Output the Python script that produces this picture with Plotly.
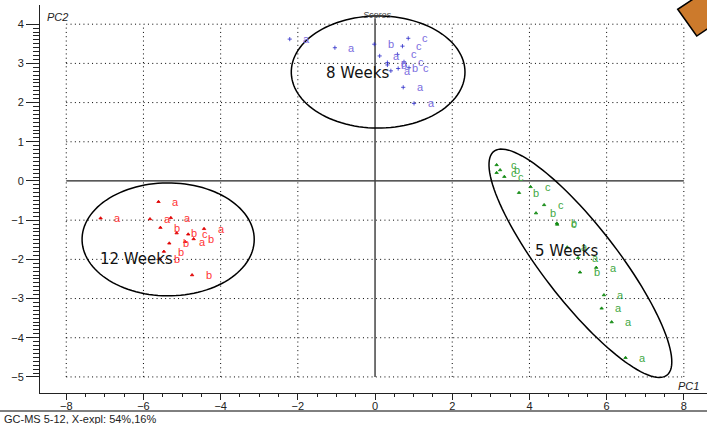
import numpy as np
import plotly.graph_objects as go

# ---- PCA scores (PC1, PC2) with replicate letters, per storage time ----
w8_pc1 = [-2.21, -1.04, -0.02, 0.86, 0.71, 0.12, 0.58, 0.32, 0.32, 0.41, 0.60, 0.73, 1.01, 0.75, 0.88]
w8_pc2 = [3.62, 3.40, 3.49, 3.64, 3.44, 3.19, 3.23, 3.02, 2.96, 2.81, 2.87, 2.39, 1.98, 3.04, 2.89]
w8_lab = ["a", "a", "b", "c", "c", "a", "c", "a", "b", "a", "b", "a", "a", "c", "c"]

w12_pc1 = [-5.61, -7.11, -5.83, -5.29, -5.56, -5.14, -4.84, -4.43, -4.70, -5.33, -5.47, -5.58, -4.74, -4.92]
w12_pc2 = [-0.53, -0.95, -0.97, -0.94, -1.19, -1.33, -1.36, -1.22, -1.48, -1.59, -1.80, -1.99, -2.40, -1.55]
w12_lab = ["a", "a", "a", "a", "b", "b", "c", "a", "b", "b", "b", "b", "b", "a"]

w5_pc1 = [3.15, 3.24, 3.15, 3.35, 3.73, 4.03, 4.38, 4.17, 4.71, 4.72, 4.98, 5.26, 5.31, 5.73, 5.93, 5.87, 6.13, 6.49]
w5_pc2 = [0.41, 0.28, 0.21, 0.11, -0.30, -0.15, -0.61, -0.82, -1.08, -1.11, -1.69, -1.96, -2.33, -2.21, -2.91, -3.25, -3.60, -4.51]
w5_lab = ["c", "b", "c", "c", "b", "c", "c", "b", "b", "c", "a", "a", "b", "a", "a", "a", "a", "a"]

# group ellipses: centre, semi-axes and rotation (degrees), in score units
groups = ["8 Weeks", "12 Weeks", "5 Weeks"]
ell_cx = [0.08, -5.36, 5.32]
ell_cy = [2.78, -1.49, -2.10]
ell_a = [2.25, 2.23, 3.63]
ell_b = [1.43, 1.44, 0.96]
ell_rot = [0.0, 0.0, -51.8]
grp_lx = [-0.45, -6.17, 4.97]
grp_ly = [2.76, -1.99, -1.79]

x_ticks = [-8, -6, -4, -2, 0, 2, 4, 6, 8]
y_ticks = [-5, -4, -3, -2, -1, 0, 1, 2, 3, 4]

FONT = "Liberation Sans, Arial, sans-serif"

fig = go.Figure()

series = [
    (w8_pc1, w8_pc2, w8_lab, "#2a2ac8", "#7b6ee0", "cross-thin", 3),
    (w12_pc1, w12_pc2, w12_lab, "#e00000", "#ff3434", "triangle-up", 3),
    (w5_pc1, w5_pc2, w5_lab, "#138a13", "#43a843", "triangle-up", 3),
]

annotations = []
for xs, ys, labs, mcol, tcol, sym, msize in series:
    fig.add_trace(go.Scatter(
        x=xs, y=ys, mode="markers", showlegend=False, hoverinfo="skip",
        marker=dict(symbol=sym, size=msize, color=mcol, line=dict(color=mcol, width=0.8)),
    ))
    for x, y, t in zip(xs, ys, labs):
        annotations.append(dict(x=x, y=y, xref="x", yref="y", text=t, showarrow=False,
                                xshift=17, font=dict(family=FONT, size=11, color=tcol)))

shapes = []
# dotted grid inside the tick box
for yv in y_ticks:
    if yv != 0:
        shapes.append(dict(type="line", xref="x", yref="y", x0=x_ticks[0], x1=x_ticks[-1], y0=yv, y1=yv,
                           line=dict(color="#000", width=1, dash="1px,3.3px"), layer="below"))
for xv in x_ticks:
    if xv != 0:
        shapes.append(dict(type="line", xref="x", yref="y", x0=xv, x1=xv, y0=y_ticks[0], y1=y_ticks[-1],
                           line=dict(color="#000", width=1, dash="1px,3.3px"), layer="below"))
# solid zero axes
shapes.append(dict(type="line", xref="x", yref="y", x0=x_ticks[0], x1=x_ticks[-1], y0=0, y1=0,
                   line=dict(color="#222", width=1.2), layer="below"))
shapes.append(dict(type="line", xref="x", yref="y", x0=0, x1=0, y0=y_ticks[0], y1=4.15,
                   line=dict(color="#444", width=1.5), layer="below"))

# group ellipses
t = np.linspace(0, 2 * np.pi, 120)
for cx, cy, a, b, rot in zip(ell_cx, ell_cy, ell_a, ell_b, ell_rot):
    r = np.deg2rad(rot)
    ex = cx + a * np.cos(t) * np.cos(r) - b * np.sin(t) * np.sin(r)
    ey = cy + a * np.cos(t) * np.sin(r) + b * np.sin(t) * np.cos(r)
    path = "M " + " L ".join(f"{px:.4f},{py:.4f}" for px, py in zip(ex, ey)) + " Z"
    shapes.append(dict(type="path", xref="x", yref="y", path=path, line=dict(color="#000", width=1.5)))

for name, lx, ly in zip(groups, grp_lx, grp_ly):
    annotations.append(dict(x=lx, y=ly, xref="x", yref="y", text=name, showarrow=False,
                            font=dict(family="DejaVu Sans, sans-serif", size=15, color="#111")))

# separator rule above the caption
shapes.append(dict(type="line", xref="paper", yref="paper", x0=-0.06, x1=1.0, y0=-0.0464, y1=-0.0464,
                   line=dict(color="#000", width=1)))
# orange corner tab
shapes.append(dict(type="path", xref="paper", yref="paper",
                   path="M 0.9561,0.9889 L 0.9846,0.9201 L 1.0266,0.9680 L 0.9981,1.0368 Z",
                   fillcolor="#cc7a2c", line=dict(color="#000", width=1.5)))

annotations += [
    dict(x=0.5063, y=0.974, xref="paper", yref="paper", text="<i>Scores</i>", showarrow=False,
         xanchor="center", yanchor="middle", font=dict(family=FONT, size=9, color="#444")),
    dict(x=0.0255, y=0.969, xref="paper", yref="paper", text="<i>PC2</i>", showarrow=False,
         xanchor="center", yanchor="middle", font=dict(family=FONT, size=11, color="#222")),
    dict(x=0.973, y=0.019, xref="paper", yref="paper", text="<i>PC1</i>", showarrow=False,
         xanchor="center", yanchor="middle", font=dict(family=FONT, size=11, color="#222")),
    dict(x=-0.057, y=-0.066, xref="paper", yref="paper", text="GC-MS 5-12, X-expl: 54%,16%",
         showarrow=False, xanchor="left", yanchor="middle",
         font=dict(family=FONT, size=11, color="#222")),
]

fig.update_layout(
    width=707, height=424,
    margin=dict(l=40, r=0, t=5, b=31),
    paper_bgcolor="white", plot_bgcolor="white",
    shapes=shapes, annotations=annotations,
    xaxis=dict(range=[-8.68, 8.60], showgrid=False, zeroline=False, showline=True, linecolor="#222",
               linewidth=1, tickmode="array", tickvals=x_ticks, ticks="outside", ticklen=6,
               tickcolor="#222", ticklabelstandoff=-3,
               tickfont=dict(family=FONT, size=11, color="#222"),
               minor=dict(tickmode="array", tickvals=list(np.arange(-8, 8.01, 0.5)), ticks="outside",
                          ticklen=3, tickcolor="#222", showgrid=False)),
    yaxis=dict(range=[-5.41, 4.49], showgrid=False, zeroline=False, showline=True, linecolor="#222",
               linewidth=1, tickmode="array", tickvals=y_ticks, ticks="outside", ticklen=13,
               tickcolor="#222", tickfont=dict(family=FONT, size=11, color="#222"),
               minor=dict(tickmode="array", tickvals=list(np.round(np.arange(-5, 4.001, 0.1), 2)),
                          ticks="outside", ticklen=6, tickcolor="#222", showgrid=False)),
)

fig.write_html("out.html")
